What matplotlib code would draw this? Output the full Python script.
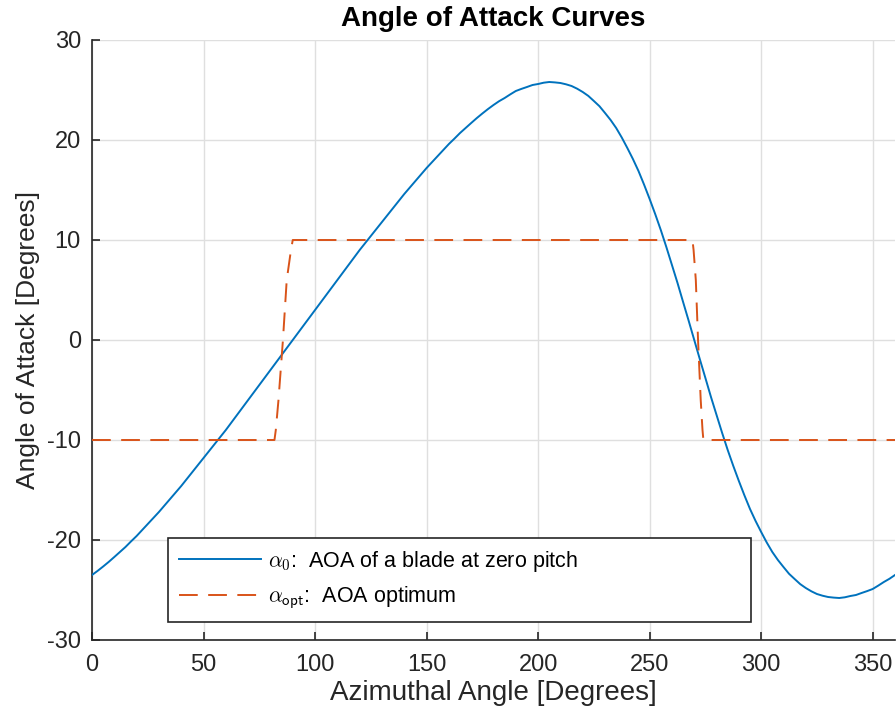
import matplotlib
matplotlib.use("Agg")
import matplotlib.pyplot as plt

# ---- data ----
azimuth = [0, 2.5, 5, 7.5, 10, 12.5, 15, 17.5, 20, 22.5, 25, 27.5, 30,
           35, 40, 45, 50, 55, 60, 65, 70, 75, 80, 85, 90, 95, 100, 105, 110,
           115, 120, 125, 130, 135, 140, 145, 150,
           152.5, 155, 157.5, 160, 162.5, 165, 167.5, 170, 172.5, 175, 177.5,
           180, 182.5, 185, 187.5, 190, 192.5, 195, 197.5, 200, 202.5, 205,
           207.5, 210, 212.5, 215, 217.5, 220, 222.5, 225, 227.5, 230, 232.5,
           235, 237.5, 240, 242.5, 245, 247.5, 250, 252.5, 255, 257.5, 260,
           262.5, 265, 267.5, 270, 272.5, 275, 277.5, 280, 282.5, 285, 287.5,
           290, 292.5, 295, 297.5, 300, 302.5, 305, 307.5, 310, 312.5, 315,
           317.5, 320, 322.5, 325, 327.5, 330, 332.5, 335, 337.5, 340, 342.5,
           345, 347.5, 350, 352.5, 355, 357.5, 360]
alpha_0 = [-23.5, -23.09, -22.65, -22.19, -21.7, -21.2, -20.7, -20.14, -19.6,
           -19.0, -18.4, -17.8, -17.2,
           -15.9, -14.6, -13.2, -11.8, -10.4, -9.0, -7.5, -6.0, -4.5, -3.0,
           -1.5, 0.0, 1.5, 3.0, 4.5, 6.0, 7.5, 9.0, 10.4, 11.8, 13.2, 14.6,
           15.9, 17.2,
           17.8, 18.4, 19.0, 19.6, 20.14, 20.7, 21.2, 21.7, 22.19, 22.65, 23.09,
           23.5, 23.88, 24.2, 24.56, 24.9, 25.11, 25.3, 25.5, 25.6, 25.73, 25.8,
           25.76, 25.7, 25.57, 25.4, 25.13, 24.8, 24.41, 23.9, 23.38, 22.7,
           22.0, 21.2, 20.25, 19.2, 18.1, 16.9, 15.54, 14.1, 12.59, 11.0,
           9.29, 7.5, 5.7, 3.8, 1.92, 0.0, -1.92, -3.8, -5.7, -7.5, -9.29,
           -11.0, -12.59, -14.1, -15.54, -16.9, -18.1, -19.2, -20.25, -21.2,
           -22.0, -22.7, -23.38, -23.9, -24.41, -24.8, -25.13, -25.4, -25.57,
           -25.7, -25.76, -25.8, -25.73, -25.6, -25.5, -25.3, -25.11, -24.9,
           -24.56, -24.2, -23.88, -23.5]

opt_azimuth = [0, 81.8, 82.4, 83.6, 85.6, 87.3, 89.2, 90.0,
               269.2, 269.7, 270.7, 271.7, 272.9, 273.7, 274.1, 360]
alpha_opt = [-10, -10, -9, -6, 0, 6, 9, 10,
             10, 9, 6, 0, -6, -9, -10, -10]

x_ticks = [0, 50, 100, 150, 200, 250, 300, 350]
y_ticks = [-30, -20, -10, 0, 10, 20, 30]

label_0 = r'$\alpha_{\mathsf{0}}$:  AOA of a blade at zero pitch'
label_opt = r'$\alpha_{\mathsf{opt}}$:  AOA optimum'

# ---- style ----
plt.rcParams['font.family'] = ['Liberation Sans', 'DejaVu Sans']
plt.rcParams['mathtext.fontset'] = 'cm'
plt.rcParams['lines.scale_dashes'] = False
plt.rcParams['axes.unicode_minus'] = False

dark = '#262626'
blue = '#0072BD'
orange = '#D95319'

fig = plt.figure(figsize=(8.96, 7.13), dpi=100)
ax = fig.add_axes([92 / 896, 73 / 713, 803 / 896, 600 / 713])

ax.plot(azimuth, alpha_0, color=blue, lw=1.4, label=label_0, zorder=3)
ax.plot(opt_azimuth, alpha_opt, color=orange, lw=1.4, dashes=(13.5, 7.5),
        label=label_opt, zorder=3)

ax.set_xlim(0, 360)
ax.set_ylim(-30, 30)
ax.set_xticks(x_ticks)
ax.set_yticks(y_ticks)

ax.grid(True, color='#dfdfdf', lw=1.0, zorder=0)
ax.set_axisbelow(True)

for s in ['top', 'right']:
    ax.spines[s].set_visible(False)
for s in ['left', 'bottom']:
    ax.spines[s].set_color(dark)
    ax.spines[s].set_linewidth(1.2)

ax.tick_params(axis='both', direction='in', length=6, width=1.2, color=dark,
               labelcolor=dark, labelsize=17)
ax.tick_params(axis='x', pad=10)
ax.tick_params(axis='y', pad=8)

ax.set_title('Angle of Attack Curves', fontsize=20, fontweight='bold',
             color='black', pad=10)
ax.set_xlabel('Azimuthal Angle [Degrees]', fontsize=20, color=dark, labelpad=3)
ax.set_ylabel('Angle of Attack [Degrees]', fontsize=19, color=dark, labelpad=5)

x0 = (168 - 92) / 803
x1 = (751 - 92) / 803
ytop = (640 - 538) / 600
leg = ax.legend(loc='upper left', bbox_to_anchor=(x0, ytop - 0.2, x1 - x0, 0.2),
                mode='expand', fontsize=15.5, handlelength=3.8,
                handletextpad=0.35, borderpad=0.5, labelspacing=0.5,
                borderaxespad=0, fancybox=False, framealpha=1, frameon=True)
leg.get_frame().set_edgecolor(dark)
leg.get_frame().set_linewidth(1.2)

fig.savefig('out.png', dpi=100)
